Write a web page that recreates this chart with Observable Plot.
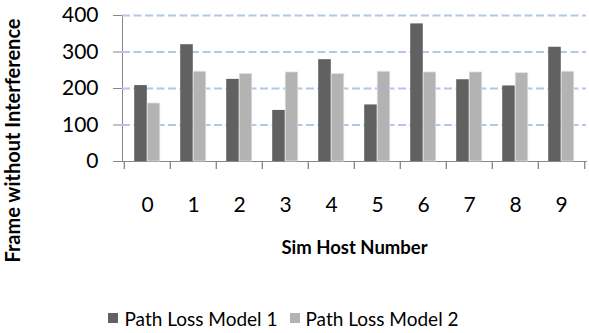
<!DOCTYPE html>
<html>
<head>
<meta charset="utf-8">
<script src="https://cdn.jsdelivr.net/npm/d3@7"></script>
<script src="https://cdn.jsdelivr.net/npm/@observablehq/plot@0.6"></script>
<style>
  body { margin: 0; background: #fff; font-family: Lato, "Open Sans", sans-serif; }
  #chart { width: 589px; height: 295px; }
  #legend {
    width: 589px; height: 38px; box-sizing: border-box;
    display: flex; justify-content: center; align-items: center;
    padding-right: 22px; padding-top: 8px;
    font-size: 19px; color: #000;
  }
  #legend .item { display: flex; align-items: center; gap: 6px; margin: 0 6px; }
  #legend .swatch { width: 10px; height: 10px; display: inline-block; }
</style>
</head>
<body>
<div id="chart"></div>
<div id="legend"></div>
<script>
// Hosts along the x axis
const hosts = ["0", "1", "2", "3", "4", "5", "6", "7", "8", "9"];
// Frames received without interference, per host
const model1 = [208, 320, 225, 140, 279, 155, 377, 224, 207, 313];
const model2 = [159, 246, 240, 244, 240, 246, 244, 244, 242, 246];
const seriesNames = ["Path Loss Model 1", "Path Loss Model 2"];
const seriesColors = ["#616161", "#b3b3b3"];
const yTicks = [0, 100, 200, 300, 400];
const gridValues = [100, 200, 300, 400];
const xTitle = "Sim Host Number";
const yTitle = "Frame without Interference";

const rows1 = hosts.map((h, i) => ({host: h, value: model1[i]}));
const rows2 = hosts.map((h, i) => ({host: h, value: model2[i]}));

const width = 589, height = 295;
const marginLeft = 122, marginRight = 3, marginTop = 15, marginBottom = 134;
const step = (width - marginLeft - marginRight) / hosts.length;
const barW = 13, outer = (step - 2 * barW) / 2;

const chart = Plot.plot({
  width, height, marginLeft, marginRight, marginTop, marginBottom,
  style: {fontFamily: "Lato, 'Open Sans', sans-serif", fontSize: "21px", color: "#878787", background: "#fff"},
  x: {domain: hosts, padding: 0, tickSize: 0, tickPadding: 36, line: true, label: null},
  y: {domain: [0, 400], ticks: yTicks, tickSize: 9, tickPadding: 15, line: true, label: null},
  marks: [
    Plot.ruleY(gridValues, {y: d => d, stroke: "#b4c6ea", strokeWidth: 2, strokeDasharray: "8,3.5", ariaLabel: "gridline"}),
    Plot.barY(rows1, {x: "host", y: "value", fill: seriesColors[0], insetLeft: outer, insetRight: outer + barW}),
    Plot.barY(rows2, {x: "host", y: "value", fill: seriesColors[1], stroke: "#e4e4e4", strokeWidth: 0.7, insetLeft: outer + barW, insetRight: outer}),
    // category separators below the axis
    Plot.ruleX(hosts, {x: d => d, y1: 0, y2: 0, insetBottom: -8, dx: -step / 2, stroke: "#878787", strokeWidth: 1.3}),
    Plot.ruleX(hosts.slice(-1), {x: d => d, y1: 0, y2: 0, insetBottom: -8, dx: step / 2, stroke: "#878787", strokeWidth: 1.3}),
    Plot.text([xTitle], {text: d => d, frameAnchor: "bottom", dy: 92, fontWeight: "bold", fontSize: 18.5, fill: "#000"}),
    Plot.text([yTitle], {text: d => d, frameAnchor: "left", textAnchor: "middle", rotate: -90, dx: -109, dy: 52, fontWeight: "bold", fontSize: 20, fill: "#000"})
  ]
});

// Tick labels in black, axis lines stay grey
chart.querySelectorAll("text").forEach(t => t.setAttribute("fill", "#000"));

// Horizontal fade on the dashed gridlines
const xr = chart.scale("x").range;
const svg = d3.select(chart);
const grad = svg.insert("defs", ":first-child").append("linearGradient")
  .attr("id", "grid-fade").attr("gradientUnits", "userSpaceOnUse")
  .attr("x1", xr[0]).attr("x2", xr[1]).attr("y1", 0).attr("y2", 0);
[[0, "#dfe6f5"], [0.45, "#b2c4ea"], [0.8, "#c6d3ee"], [1, "#e8ecf5"]].forEach(([o, c]) =>
  grad.append("stop").attr("offset", o).attr("stop-color", c));
svg.selectAll('g[aria-label="gridline"]').attr("stroke", "url(#grid-fade)");
svg.selectAll('g[aria-label="gridline"] line').attr("stroke", "url(#grid-fade)");

document.getElementById("chart").appendChild(chart);

const legend = document.getElementById("legend");
seriesNames.forEach((name, i) => {
  const item = document.createElement("span");
  item.className = "item";
  const sw = document.createElement("span");
  sw.className = "swatch";
  sw.style.background = seriesColors[i];
  const label = document.createElement("span");
  label.textContent = name;
  item.appendChild(sw);
  item.appendChild(label);
  legend.appendChild(item);
});
</script>
</body>
</html>
